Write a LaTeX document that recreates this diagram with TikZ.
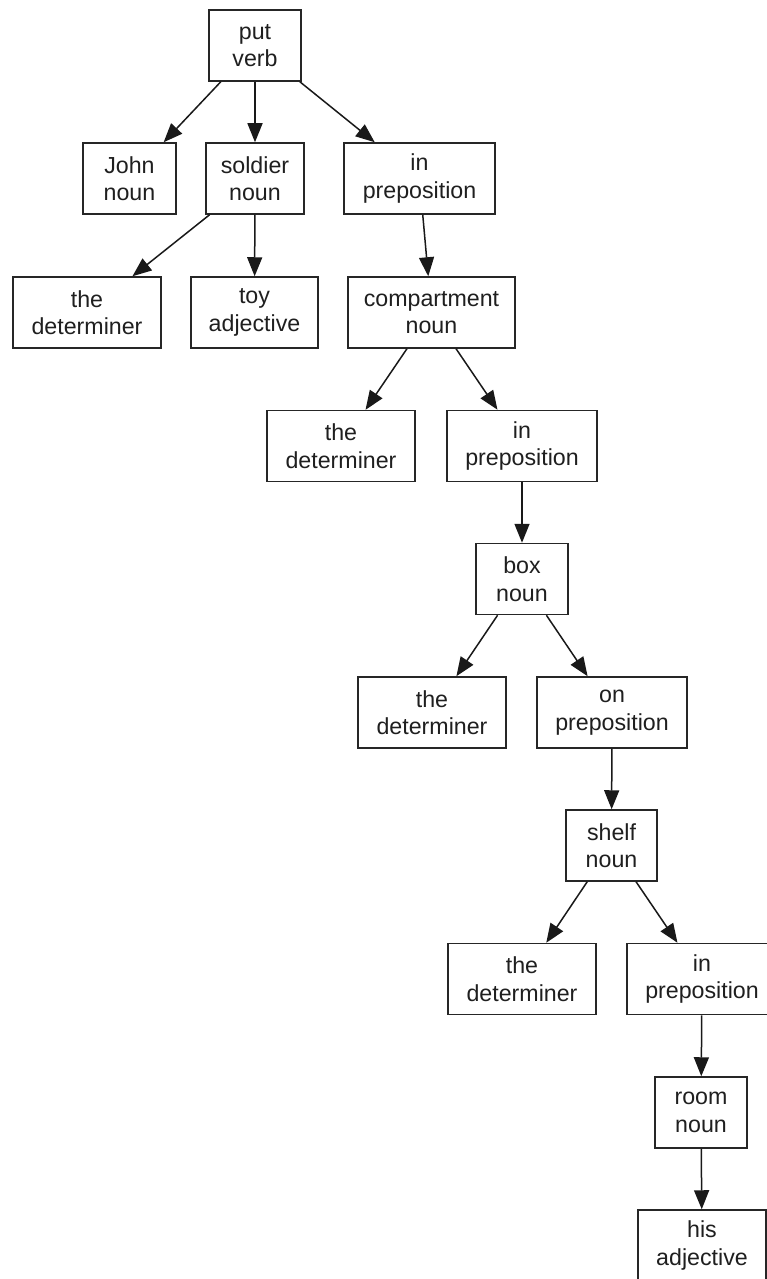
\documentclass[tikz,border=0pt]{standalone}
\usepackage{fontspec}
\setmainfont{Liberation Sans}
\usetikzlibrary{arrows.meta}
\begin{document}
\begin{tikzpicture}[x=1pt,y=-1pt,
  wbox/.style={draw=black!85, line width=1.5pt, fill=white, align=center, inner sep=0pt,
     minimum height=71pt, minimum width=#1, text=black!88,
     font=\fontsize{23.2}{27.5}\selectfont},
  link/.style={draw=black!90, line width=1.5pt, -{Triangle[length=19pt,width=15pt]}}]
\clip (0,0) rectangle (767,1279);
\fill[white] (0,0) rectangle (767,1279);
\node[wbox=92pt]  (put)   at (255,45.5)   {put\\verb};
\node[wbox=93pt]  (john)  at (129.5,178.5) {John\\noun};
\node[wbox=98pt]  (sold)  at (255,178.5)  {soldier\\noun};
\node[wbox=151pt] (inA)   at (419.5,178.5) {in\\preposition};
\node[wbox=148pt] (detA)  at (87,312.5)   {the\\determiner};
\node[wbox=127pt] (toy)   at (254.5,312.5) {toy\\adjective};
\node[wbox=167pt] (comp)  at (431.5,312.5) {compartment\\noun};
\node[wbox=148pt] (detB)  at (341,446)    {the\\determiner};
\node[wbox=150pt] (inB)   at (522,446)    {in\\preposition};
\node[wbox=92pt]  (box)   at (522,579)    {box\\noun};
\node[wbox=148pt] (detC)  at (432,712.5)  {the\\determiner};
\node[wbox=150pt] (on)    at (612,712.5)  {on\\preposition};
\node[wbox=91pt]  (shelf) at (611.5,845.5) {shelf\\noun};
\node[wbox=148pt] (detD)  at (522,979)    {the\\determiner};
\node[wbox=150pt] (inC)   at (702,979)    {in\\preposition};
\node[wbox=92pt]  (room)  at (701,1112.5) {room\\noun};
\node[wbox=128pt] (his)   at (702,1245.5) {his\\adjective};
\draw[link] (put) -- (john);
\draw[link] (put) -- (sold);
\draw[link] (put) -- (inA);
\draw[link] (sold) -- (detA);
\draw[link] (sold) -- (toy);
\draw[link] (inA) -- (comp);
\draw[link] (comp) -- (detB);
\draw[link] (comp) -- (inB);
\draw[link] (inB) -- (box);
\draw[link] (box) -- (detC);
\draw[link] (box) -- (on);
\draw[link] (on) -- (shelf);
\draw[link] (shelf) -- (detD);
\draw[link] (shelf) -- (inC);
\draw[link] (inC) -- (room);
\draw[link] (room) -- (his);
\end{tikzpicture}
\end{document}
